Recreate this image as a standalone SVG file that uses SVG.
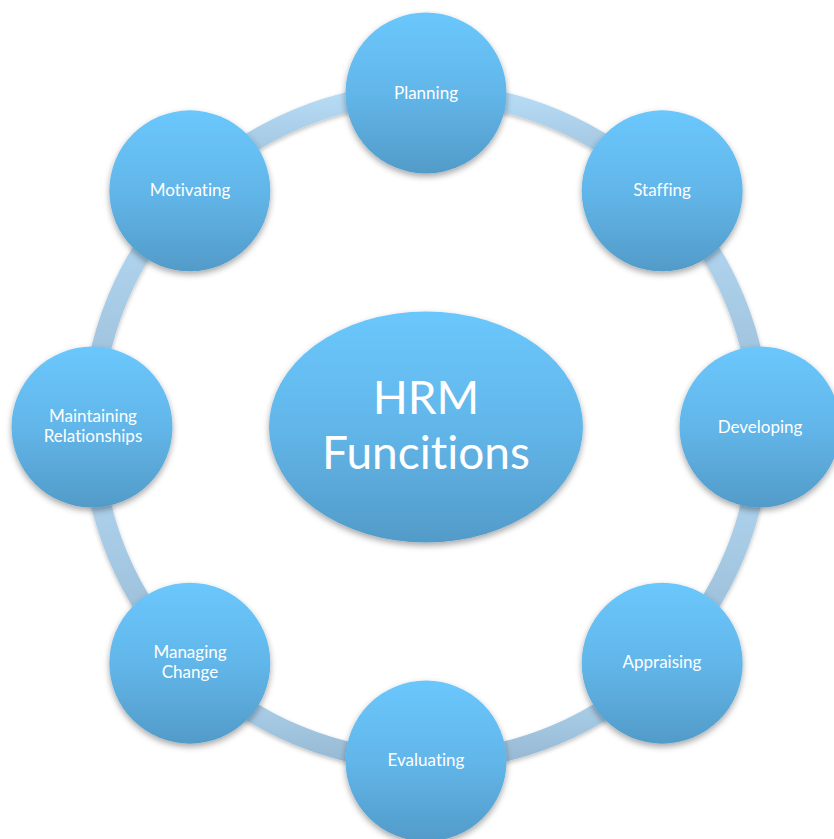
<svg xmlns="http://www.w3.org/2000/svg" width="834" height="839" viewBox="0 0 834 839">
  <defs>
    <linearGradient id="nodeFill" x1="0" y1="0" x2="0" y2="1">
      <stop offset="0" stop-color="#6ac7fc"/>
      <stop offset="0.5" stop-color="#62b6e9"/>
      <stop offset="1" stop-color="#529bc9"/>
    </linearGradient>
    <linearGradient id="ringFill" x1="0" y1="0" x2="0" y2="1">
      <stop offset="0" stop-color="#b7dcf6"/>
      <stop offset="1" stop-color="#97b9d4"/>
    </linearGradient>
    <filter id="shadow" x="-20%" y="-20%" width="140%" height="150%">
      <feDropShadow dx="0" dy="3" stdDeviation="3" flood-color="#000" flood-opacity="0.35"/>
    </filter>
    <filter id="ringShadow" x="-20%" y="-20%" width="140%" height="150%">
      <feDropShadow dx="0" dy="2" stdDeviation="2" flood-color="#000" flood-opacity="0.25"/>
    </filter>
  </defs>
  <style>
    .node { fill: url(#nodeFill); filter: url(#shadow); }
    .arc { fill: none; stroke: url(#ringFill); stroke-width: 20; filter: url(#ringShadow); }
    .label { font-family: "Lato", "Open Sans", "Liberation Sans", sans-serif; font-size: 17px; fill: #ffffff; text-anchor: middle; font-variant-ligatures: none; }
    .title { font-family: "Lato", "Open Sans", "Liberation Sans", sans-serif; font-size: 46px; fill: #ffffff; text-anchor: middle; font-variant-ligatures: none; }
  </style>
  <rect width="834" height="839" fill="#ffffff"/>

  <!-- ring segments joining neighbouring functions (clockwise) -->
  <g id="connectors">
    <path class="arc" d="M426 93 A334 334 0 0 1 662.17 190.83"/>
    <path class="arc" d="M662.17 190.83 A334 334 0 0 1 760 427"/>
    <path class="arc" d="M760 427 A334 334 0 0 1 662.17 663.17"/>
    <path class="arc" d="M662.17 663.17 A334 334 0 0 1 426 761"/>
    <path class="arc" d="M426 761 A334 334 0 0 1 189.83 663.17"/>
    <path class="arc" d="M189.83 663.17 A334 334 0 0 1 92 427"/>
    <path class="arc" d="M92 427 A334 334 0 0 1 189.83 190.83"/>
    <path class="arc" d="M189.83 190.83 A334 334 0 0 1 426 93"/>
  </g>

  <g id="hrm-functions">
    <ellipse class="node" cx="426" cy="427" rx="157" ry="115.5"/>
    <text class="title" x="426" y="414">HRM</text>
    <text class="title" x="426" y="469">Funcitions</text>
  </g>

  <g id="planning">
    <circle class="node" cx="426" cy="93" r="80.5"/>
    <text class="label" x="426" y="99">Planning</text>
  </g>
  <g id="staffing">
    <circle class="node" cx="662.17" cy="190.83" r="80.5"/>
    <text class="label" x="662" y="196">Staffing</text>
  </g>
  <g id="developing">
    <circle class="node" cx="760" cy="427" r="80.5"/>
    <text class="label" x="760" y="433">Developing</text>
  </g>
  <g id="appraising">
    <circle class="node" cx="662.17" cy="663.17" r="80.5"/>
    <text class="label" x="662" y="668">Appraising</text>
  </g>
  <g id="evaluating">
    <circle class="node" cx="426" cy="761" r="80.5"/>
    <text class="label" x="426" y="766">Evaluating</text>
  </g>
  <g id="managing-change">
    <circle class="node" cx="189.83" cy="663.17" r="80.5"/>
    <text class="label" x="190" y="658">Managing</text>
    <text class="label" x="190" y="678">Change</text>
  </g>
  <g id="maintaining-relationships">
    <circle class="node" cx="92" cy="427" r="80.5"/>
    <text class="label" x="93" y="422">Maintaining</text>
    <text class="label" x="93" y="442">Relationships</text>
  </g>
  <g id="motivating">
    <circle class="node" cx="189.83" cy="190.83" r="80.5"/>
    <text class="label" x="190" y="196">Motivating</text>
  </g>
</svg>
